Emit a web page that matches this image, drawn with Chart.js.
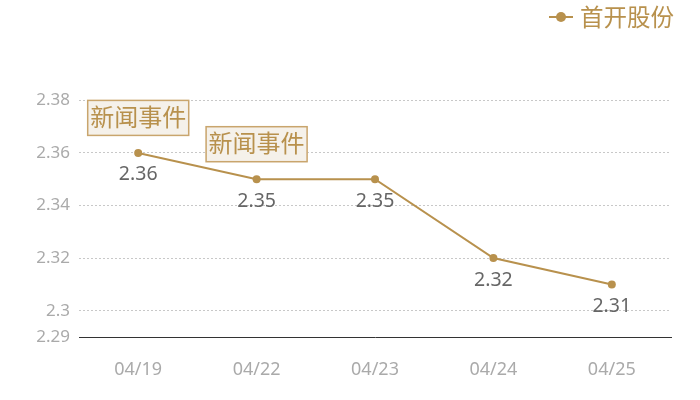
<!DOCTYPE html>
<html><head><meta charset="utf-8">
<script src="https://cdn.jsdelivr.net/npm/chart.js@4"></script>
<style>html,body{margin:0;padding:0;background:#fff}#w{width:700px;height:400px}</style>
</head><body><div id="w"><canvas id="c"></canvas></div>
<script>
const categories = ['04/19','04/22','04/23','04/24','04/25'];
const prices = [2.36, 2.35, 2.35, 2.32, 2.31];
const seriesName = '首开股份';
const yTicks = [2.29, 2.30, 2.32, 2.34, 2.36, 2.38];
const eventIndices = [0, 1];
const eventText = '新闻事件';

const GOLD = '#b8914d';
const FONT = '"Noto Sans","Noto Sans CJK SC",sans-serif';

const overlay = {
  id: 'overlay',
  afterDatasetsDraw(chart) {
    const ctx = chart.ctx;
    const meta = chart.getDatasetMeta(0);
    ctx.save();
    // value labels
    ctx.font = '19.5px ' + FONT;
    ctx.fillStyle = '#666';
    ctx.textAlign = 'center';
    ctx.textBaseline = 'middle';
    meta.data.forEach((pt, i) => {
      ctx.fillText(String(prices[i]), pt.x, pt.y + 22);
    });
    // event boxes
    eventIndices.forEach(i => {
      const pt = meta.data[i];
      const w = 102, h = 36;
      const x = pt.x - w / 2, y = pt.y - 17 - h;
      ctx.fillStyle = '#f5f1ea';
      ctx.fillRect(x, y, w, h);
      ctx.strokeStyle = '#c9a56d';
      ctx.lineWidth = 1.5;
      ctx.strokeRect(x + 0.5, y + 0.5, w - 1, h - 1);
      ctx.font = '24px ' + FONT;
      ctx.fillStyle = GOLD;
      ctx.textAlign = 'center';
      ctx.textBaseline = 'middle';
      ctx.fillText(eventText, pt.x, y + h / 2 + 1);
    });
    // legend
    ctx.strokeStyle = GOLD;
    ctx.lineWidth = 2;
    ctx.beginPath();
    ctx.moveTo(549, 17); ctx.lineTo(573, 17);
    ctx.stroke();
    ctx.fillStyle = GOLD;
    ctx.beginPath();
    ctx.arc(561, 17, 5, 0, Math.PI * 2);
    ctx.fill();
    ctx.font = '23.5px ' + FONT;
    ctx.textAlign = 'left';
    ctx.textBaseline = 'middle';
    ctx.fillText(seriesName, 580, 19);
    ctx.restore();
  }
};

new Chart(document.getElementById('c'), {
  type: 'line',
  data: {
    labels: categories,
    datasets: [{
      label: seriesName,
      data: prices,
      borderColor: GOLD,
      backgroundColor: GOLD,
      borderWidth: 2,
      pointRadius: 4,
      pointBorderWidth: 0,
      pointBackgroundColor: GOLD,
      tension: 0,
      fill: false
    }]
  },
  options: {
    responsive: true,
    maintainAspectRatio: false,
    animation: false,
    layout: { padding: { top: 74, right: 29, bottom: 0, left: 0 } },
    plugins: { legend: { display: false }, tooltip: { enabled: false } },
    scales: {
      x: {
        offset: true,
        grid: { display: false, drawTicks: false },
        border: { display: true, color: '#333', width: 1 },
        ticks: { color: '#aaa', font: { size: 18, family: FONT }, padding: 22, maxRotation: 0 },
        afterFit(s) { s.height = 63; }
      },
      y: {
        min: 2.29, max: 2.39,
        afterBuildTicks(s) { s.ticks = yTicks.map(v => ({ value: v })); },
        grid: {
          drawTicks: false,
          color: c => (c.tick && Math.abs(c.tick.value - 2.29) < 1e-9) ? 'rgba(0,0,0,0)' : '#c8c8c8',
          lineWidth: 1
        },
        border: { display: false, dash: [2, 2] },
        ticks: { color: '#aaa', font: { size: 17, family: FONT }, padding: 9,
                 callback: v => String(+v.toFixed(2)) },
        afterFit(s) { s.width = 79; }
      }
    }
  },
  plugins: [overlay]
});
</script>
</body></html>
